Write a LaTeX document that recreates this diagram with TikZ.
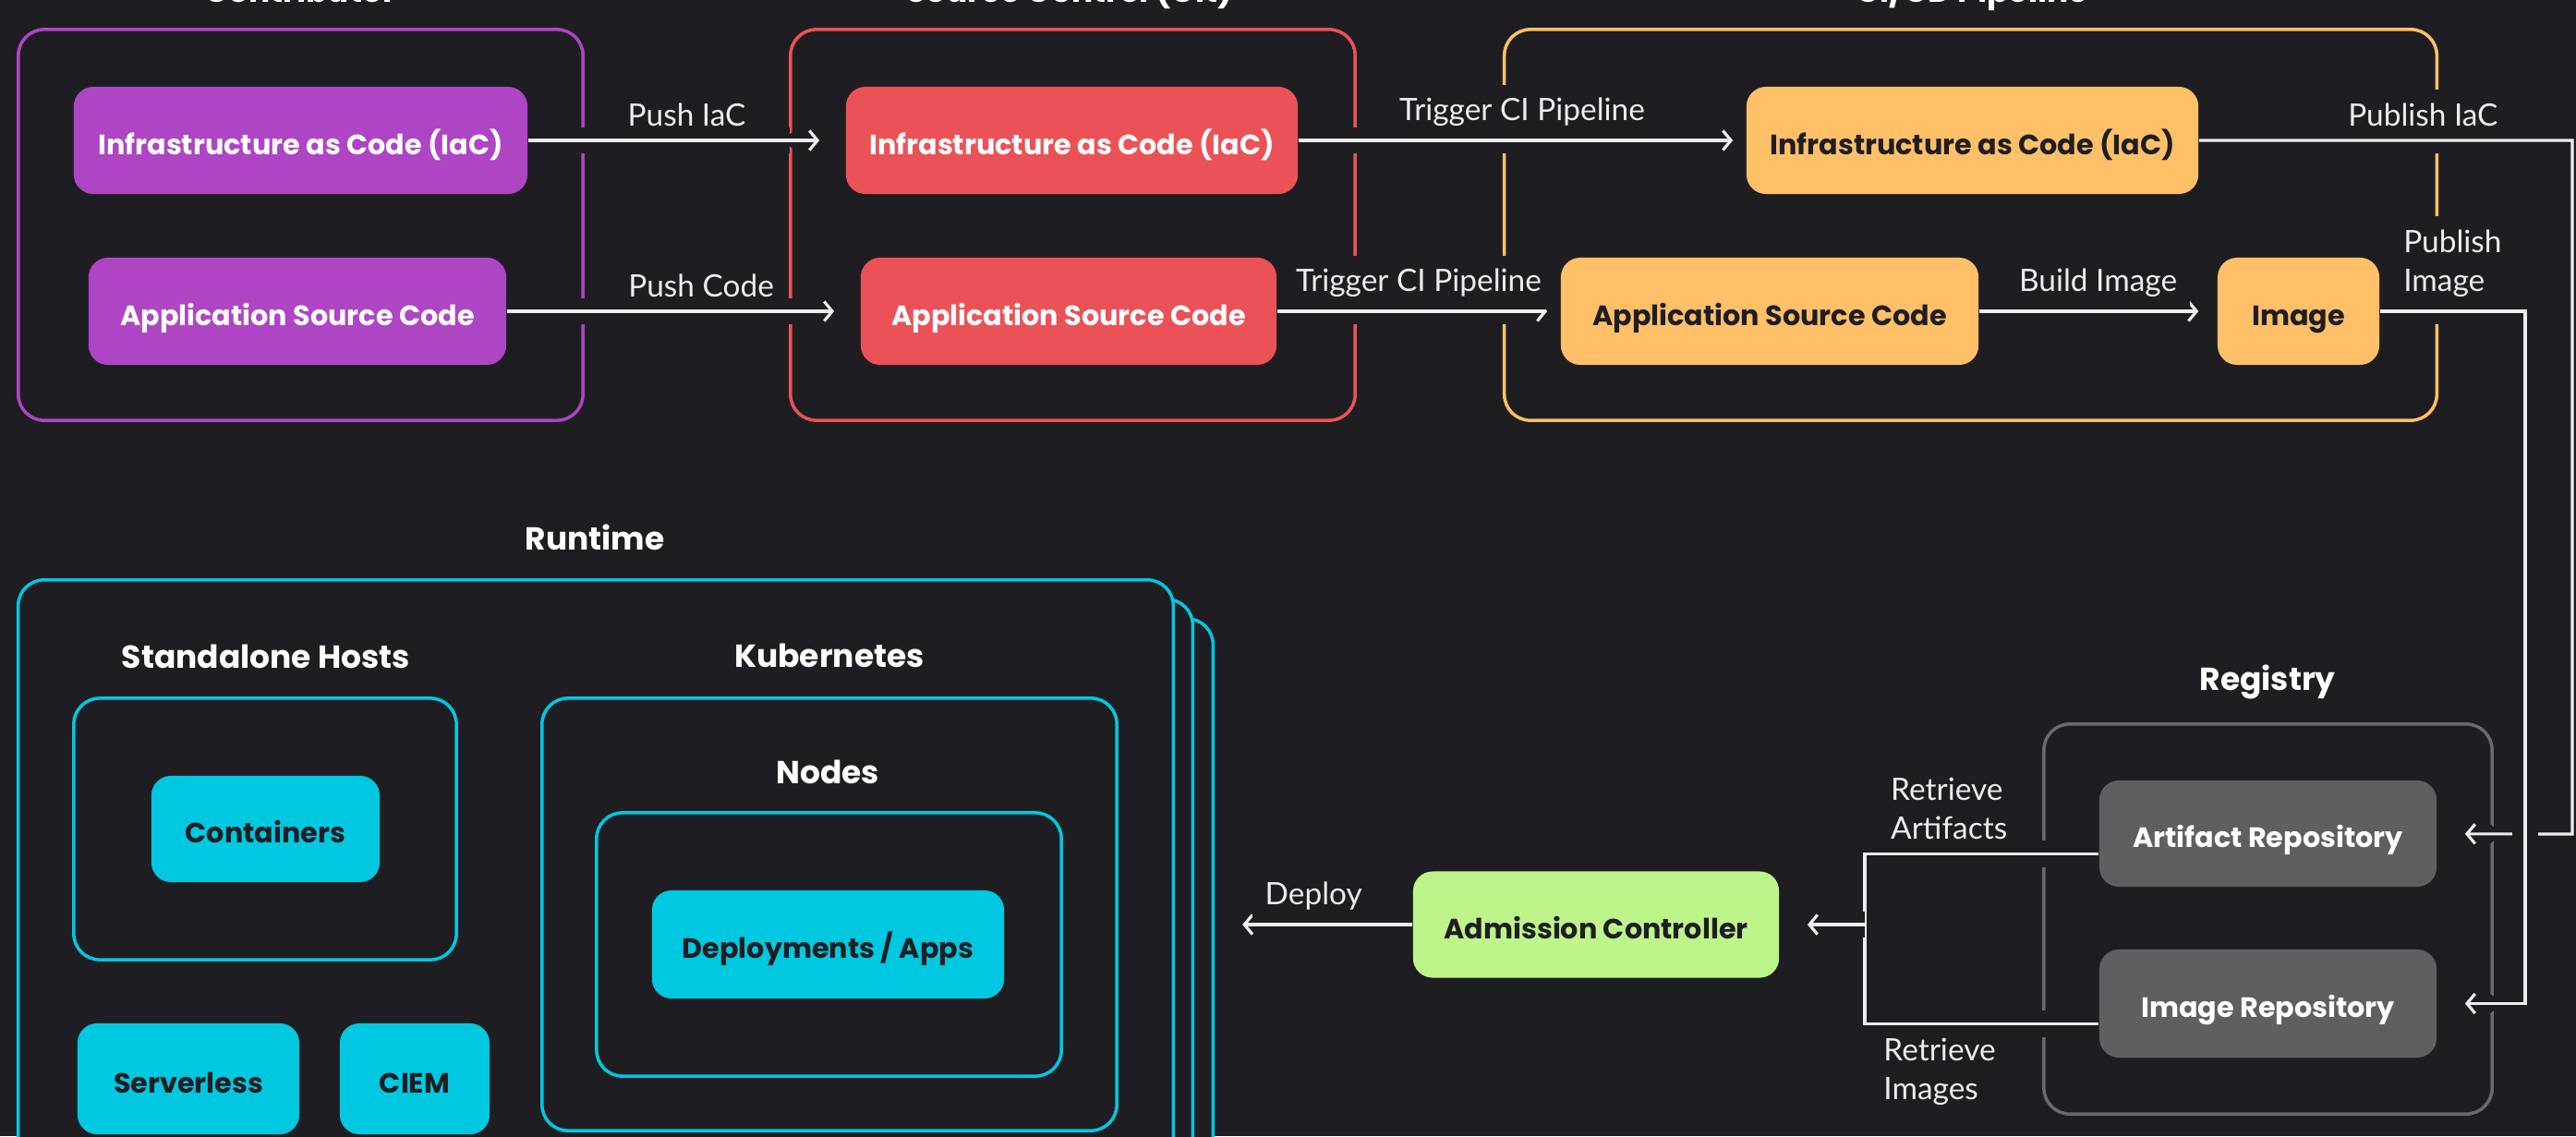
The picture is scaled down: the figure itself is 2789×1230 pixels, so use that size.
\documentclass[tikz,border=0pt]{standalone}
\usepackage{fontspec}
\setmainfont{Poppins}
\newfontfamily\lblfont{Lato}
\usetikzlibrary{arrows.meta,positioning}
\definecolor{bg}{HTML}{1E1E22}
\definecolor{devc}{HTML}{AD45C4}
\definecolor{scmc}{HTML}{EB5257}
\definecolor{cic}{HTML}{FFC067}
\definecolor{rtc}{HTML}{00C8E0}
\definecolor{admc}{HTML}{BEF58A}
\definecolor{repoc}{HTML}{5F5F61}
\definecolor{regc}{HTML}{6A6A6E}
\definecolor{linkc}{HTML}{EDEDED}
\definecolor{inkc}{HTML}{1E1E22}

\begin{document}
\begin{tikzpicture}[x=0.01cm,y=-0.01cm,>={Straight Barb[length=2.5pt,width=6pt]},
  box/.style={draw, line width=1pt, rounded corners=8pt, fill=bg},
  item/.style={rounded corners=6pt, inner sep=0pt, align=center,
    text height=8.8pt, text depth=0pt,
    font=\fontsize{8.6}{10}\selectfont\bfseries},
  heading/.style={text=white, font=\fontsize{9.8}{11}\selectfont\bfseries},
  link/.style={draw=linkc, line width=0.9pt, preaction={draw=bg, line width=8pt}},
  lbl/.style={text=linkc, fill=bg, inner sep=4pt, align=left,
    font=\lblfont\fontsize{9.5}{12}\selectfont}]
\path[use as bounding box, fill=bg] (0,0) rectangle (2789,1230);
\clip (0,0) rectangle (2789,1230);

% The three stages on top
\node[box, draw=devc, minimum width=6.11cm, minimum height=4.23cm] (devBox) at (325.5,243.5) {};
\node[box, draw=scmc, minimum width=6.11cm, minimum height=4.23cm] (scmBox) at (1161.5,243.5) {};
\node[box, draw=cic, minimum width=10.09cm, minimum height=4.23cm] (ciBox) at (2133.5,243.5) {};
\node[heading, anchor=base] (devTitle) at (325,2) {Contributor};
\node[heading, anchor=base] (scmTitle) at (1158,2) {Source Control (Git)};
\node[heading, anchor=base] (ciTitle) at (2135,2) {CI/CD Pipeline};

\node[item, fill=devc, text=white, minimum width=4.91cm, minimum height=1.16cm] (devIac) at (325.5,152) {Infrastructure as Code (IaC)};
\node[item, fill=devc, text=white, minimum width=4.52cm, minimum height=1.16cm] (devApp) at (322,337) {Application Source Code};
\node[item, fill=scmc, text=white, minimum width=4.89cm, minimum height=1.16cm] (scmIac) at (1160.5,152) {Infrastructure as Code (IaC)};
\node[item, fill=scmc, text=white, minimum width=4.50cm, minimum height=1.16cm] (scmApp) at (1157,337) {Application Source Code};
\node[item, fill=cic, text=inkc, minimum width=4.89cm, minimum height=1.16cm] (ciIac) at (2135.5,152) {Infrastructure as Code (IaC)};
\node[item, fill=cic, text=inkc, minimum width=4.52cm, minimum height=1.16cm] (ciApp) at (1916,337) {Application Source Code};
\node[item, fill=cic, text=inkc, minimum width=1.75cm, minimum height=1.16cm] (ciImg) at (2488.5,337) {Image};

% Runtime, stacked
\node[box, draw=rtc, minimum width=12.53cm, minimum height=5.90cm] (rt3) at (686.5,965) {};
\node[box, draw=rtc, minimum width=12.51cm, minimum height=6.11cm] (rt2) at (665.5,954.5) {};
\node[box, draw=rtc, minimum width=12.50cm, minimum height=6.32cm] (rt1) at (645,944) {};
\node[heading] (rtTitle) at (644,582) {Runtime};

\node[box, draw=rtc, minimum width=4.14cm, minimum height=2.83cm] (shBox) at (287,897.5) {};
\node[heading] (shTitle) at (288,711) {Standalone Hosts};
\node[item, fill=rtc, text=inkc, minimum width=2.47cm, minimum height=1.15cm] (cont) at (287.5,897.5) {Containers};
\node[item, fill=rtc, text=inkc, minimum width=2.40cm, minimum height=1.20cm] (srvl) at (204,1168) {Serverless};
\node[item, fill=rtc, text=inkc, minimum width=1.62cm, minimum height=1.20cm] (ciem) at (449,1168) {CIEM};

\node[box, draw=rtc, minimum width=6.22cm, minimum height=4.68cm] (k8sBox) at (898,990) {};
\node[heading] (k8sTitle) at (898,710) {Kubernetes};
\node[box, draw=rtc, minimum width=5.03cm, minimum height=2.85cm] (nodeBox) at (897.5,1022.5) {};
\node[heading] (nodeTitle) at (896,836) {Nodes};
\node[item, fill=rtc, text=inkc, minimum width=3.81cm, minimum height=1.17cm] (apps) at (896.5,1022.5) {Deployments / Apps};

% Admission and registry
\node[item, fill=admc, text=inkc, minimum width=3.96cm, minimum height=1.15cm] (adm) at (1728,1001) {Admission Controller};
\node[box, draw=regc, minimum width=4.85cm, minimum height=4.22cm] (regBox) at (2455.5,995) {};
\node[heading] (regTitle) at (2455,738) {Registry};
\node[item, fill=repoc, text=white, minimum width=3.65cm, minimum height=1.15cm] (artRepo) at (2455.5,902.5) {Artifact Repository};
\node[item, fill=repoc, text=white, minimum width=3.65cm, minimum height=1.17cm] (imgRepo) at (2455.5,1086.5) {Image Repository};

% Connectors
\coordinate (pubIac) at (2785,903);
\coordinate (pubImg) at (2734,1086.5);
\coordinate (mx) at (2019,0);
\coordinate (merge) at (adm.east -| mx);
\coordinate (artOut) at ([yshift=-0.22cm]artRepo.west);
\coordinate (imgOut) at ([yshift=-0.22cm]imgRepo.west);

\draw[link,->,shorten >=0.28cm] (devIac) -- node[lbl, above=0pt] {Push IaC} (scmIac);
\draw[link,->,shorten >=0.28cm] (devApp) -- node[lbl, pos=0.55, above=0pt] {Push Code} (scmApp);
\draw[link,->,shorten >=0.14cm] (scmIac) -- node[lbl, above=0pt] {Trigger CI Pipeline} (ciIac);
\draw[link,->,shorten >=0.14cm] (scmApp) -- node[lbl, above=0pt] {Trigger CI Pipeline} (ciApp);
\draw[link,->,shorten >=0.2cm] (ciApp) -- node[lbl, above=0pt] {Build Image} (ciImg);
\draw[link,->,shorten >=0.3cm] (ciIac) -| node[lbl, pos=0.3, above=0pt] {Publish IaC} (pubIac) -- (artRepo);
\draw[link,->,shorten >=0.3cm] (ciImg) -| node[lbl, pos=0.25, above=0pt] {Publish\\Image} (pubImg) -- (imgRepo);
\draw[link] (artOut) -| node[lbl, pos=0.32, above=0pt] {Retrieve\\Artifacts} (merge)
  |- node[lbl, pos=0.66, below=0pt] {Retrieve\\Images} (imgOut);
\draw[link,->,shorten >=0.3cm] (merge) -- (adm);
\draw[link,->,shorten >=0.3cm] (adm) -- node[lbl, above=0pt] {Deploy} (adm.west -| rt3.east);
\end{tikzpicture}
\end{document}
